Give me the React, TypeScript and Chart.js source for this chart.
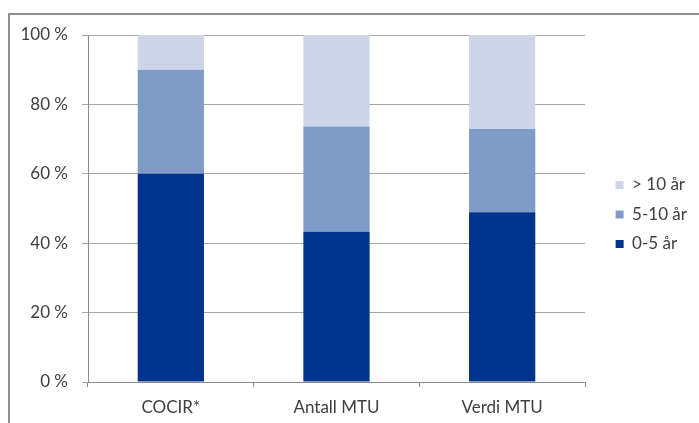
import React, { useEffect, useRef } from "react";
import { Chart, registerables } from "chart.js";

Chart.register(...registerables);

const categories = ["COCIR*", "Antall MTU", "Verdi MTU"];
const seriesNames = ["0-5 år", "5-10 år", "> 10 år"];
const young = [60, 43.3, 48.9];
const middle = [30, 30.3, 24];
const old = [10, 26.4, 27.1];
const seriesColors = ["#00338d", "#7f9bc7", "#ccd6e8"];

const FONT = "Lato, 'Open Sans', sans-serif";
const PLOT_RIGHT = 585;
const PAD_RIGHT = 2;

export default function App() {
  const ref = useRef<HTMLCanvasElement | null>(null);

  useEffect(() => {
    if (!ref.current) return;
    const chart = new Chart(ref.current, {
      type: "bar",
      data: {
        labels: categories,
        datasets: [
          { label: seriesNames[0], data: young, backgroundColor: seriesColors[0] },
          { label: seriesNames[1], data: middle, backgroundColor: seriesColors[1] },
          { label: seriesNames[2], data: old, backgroundColor: seriesColors[2] },
        ],
      },
      options: {
        responsive: false,
        animation: false,
        layout: { padding: { top: 11, bottom: 5, left: 0, right: PAD_RIGHT } },
        datasets: { bar: { categoryPercentage: 1, barPercentage: 0.4 } } as any,
        plugins: {
          tooltip: { enabled: false },
          legend: {
            position: "right",
            reverse: true,
            labels: {
              boxWidth: 8,
              boxHeight: 8,
              padding: 12.5,
              color: "#404040",
              font: { family: FONT, size: 17 },
            },
          },
        },
        scales: {
          x: {
            stacked: true,
            grid: {
              drawOnChartArea: false,
              offset: true,
              tickLength: 5,
              color: "#8c8c8c",
            },
            border: { display: true, color: "#8c8c8c" },
            ticks: {
              color: "#404040",
              padding: 10,
              font: { family: FONT, size: 17 },
            },
            afterFit: (s: any) => {
              s.height = 36;
            },
          },
          topSpacer: {
            type: "linear",
            position: "top",
            display: true,
            grid: { display: false },
            ticks: { display: false },
            border: { display: false },
            afterFit: (s: any) => {
              s.height = 24;
            },
          },
          y: {
            stacked: true,
            min: 0,
            max: 100,
            grid: { color: "#a6a6a6", tickLength: 6 },
            border: { display: true, color: "#8c8c8c" },
            ticks: {
              stepSize: 20,
              padding: 14,
              color: "#404040",
              font: { family: FONT, size: 17 },
              callback: (v: any) => `${v} %`,
            },
            afterFit: (s: any) => {
              s.width = 88;
            },
          },
          spacer: {
            type: "linear",
            position: "right",
            display: true,
            grid: { display: false },
            ticks: { display: false },
            border: { display: false },
            afterFit: (s: any) => {
              const lw = s.chart.legend ? s.chart.legend.width : 0;
              s.width = Math.max(0, s.chart.width - PAD_RIGHT - lw - PLOT_RIGHT);
            },
          },
        } as any,
      },
    });
    return () => chart.destroy();
  }, []);

  return (
    <div style={{ position: "absolute", left: 0, top: 0, width: 699, height: 423, background: "#fff", overflow: "hidden" }}>
      <div
        style={{
          position: "absolute",
          left: 8,
          top: 13,
          width: 800,
          height: 500,
          borderTop: "2px solid #8f8f8f",
          borderLeft: "2px solid #8f8f8f",
        }}
      />
      <canvas ref={ref} width={699} height={423} style={{ position: "absolute", left: 0, top: 0 }} />
    </div>
  );
}
